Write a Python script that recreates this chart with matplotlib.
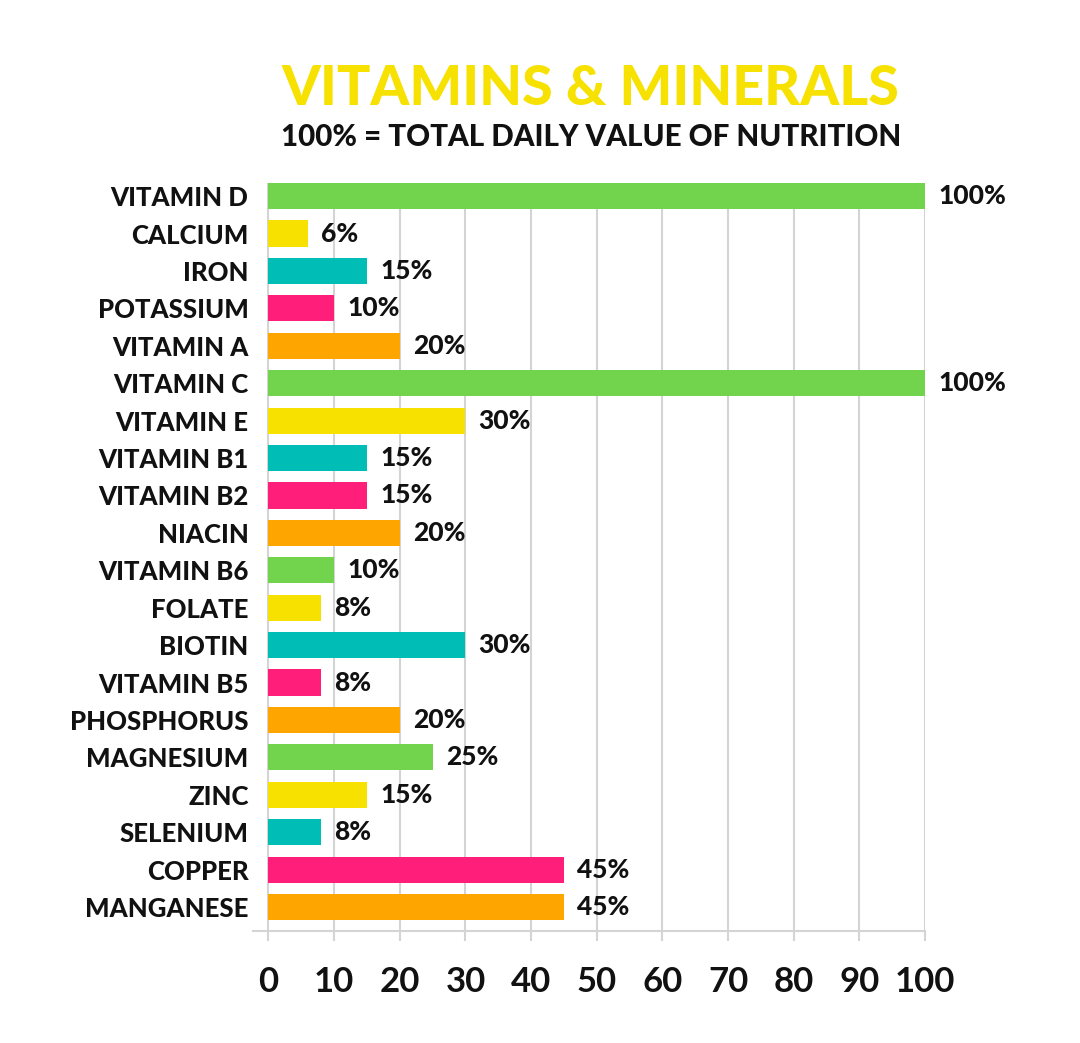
import matplotlib.pyplot as plt

# data
nutrients = ['VITAMIN D', 'CALCIUM', 'IRON', 'POTASSIUM', 'VITAMIN A', 'VITAMIN C',
             'VITAMIN E', 'VITAMIN B1', 'VITAMIN B2', 'NIACIN', 'VITAMIN B6', 'FOLATE',
             'BIOTIN', 'VITAMIN B5', 'PHOSPHORUS', 'MAGNESIUM', 'ZINC', 'SELENIUM',
             'COPPER', 'MANGANESE']
values = [100, 6, 15, 10, 20, 100, 30, 15, 15, 20, 10, 8, 30, 8, 20, 25, 15, 8, 45, 45]
xticks = [0, 10, 20, 30, 40, 50, 60, 70, 80, 90, 100]

palette = ['#72D44C', '#F7E100', '#00BDB5', '#FF1F7A', '#FFA500']
colors = [palette[i % 5] for i in range(len(values))]

fig = plt.figure(figsize=(10.8, 10.43), dpi=100)
ax = fig.add_axes([0.234, 0.1074, 0.6225, 0.7171])

ypos = list(range(len(values)))
ax.barh(ypos, values, height=0.7, color=colors, zorder=3)

# value labels
for y, v in zip(ypos, values):
    ax.text(v + 2, y, f'{v}%', va='center', ha='left', fontsize=19,
            fontweight='black', family='Lato', color='#111111')

ax.set_xlim(-2.4, 100)
ax.set_ylim(19.64, -0.35)
ax.set_yticks(ypos)
ax.set_yticklabels(nutrients, fontsize=18.5, fontweight='black', family='Lato', color='#111111')
ax.tick_params(axis='y', length=0, pad=3)

ax.set_xticks(xticks)
ax.set_xticklabels([str(t) for t in xticks], fontsize=25, fontweight='bold',
                   family='Lato', color='#111111')
ax.tick_params(axis='x', length=7, width=1.5, color='#d4d4d4', pad=18)

ax.grid(axis='x', color='#d4d4d4', linewidth=1.5, zorder=0)
for s in ['top', 'right', 'left']:
    ax.spines[s].set_visible(False)
ax.spines['bottom'].set_color('#d4d4d4')
ax.spines['bottom'].set_linewidth(1.5)

fig.text(0.547, 0.915, 'VITAMINS & MINERALS', ha='center', va='center',
         fontsize=40, fontweight='black', family='Lato', color='#F7E100')
fig.text(0.547, 0.869, '100% = TOTAL DAILY VALUE OF NUTRITION', ha='center', va='center',
         fontsize=21.3, fontweight='black', family='Lato', color='#111111')

plt.savefig('out.png', facecolor='white')
